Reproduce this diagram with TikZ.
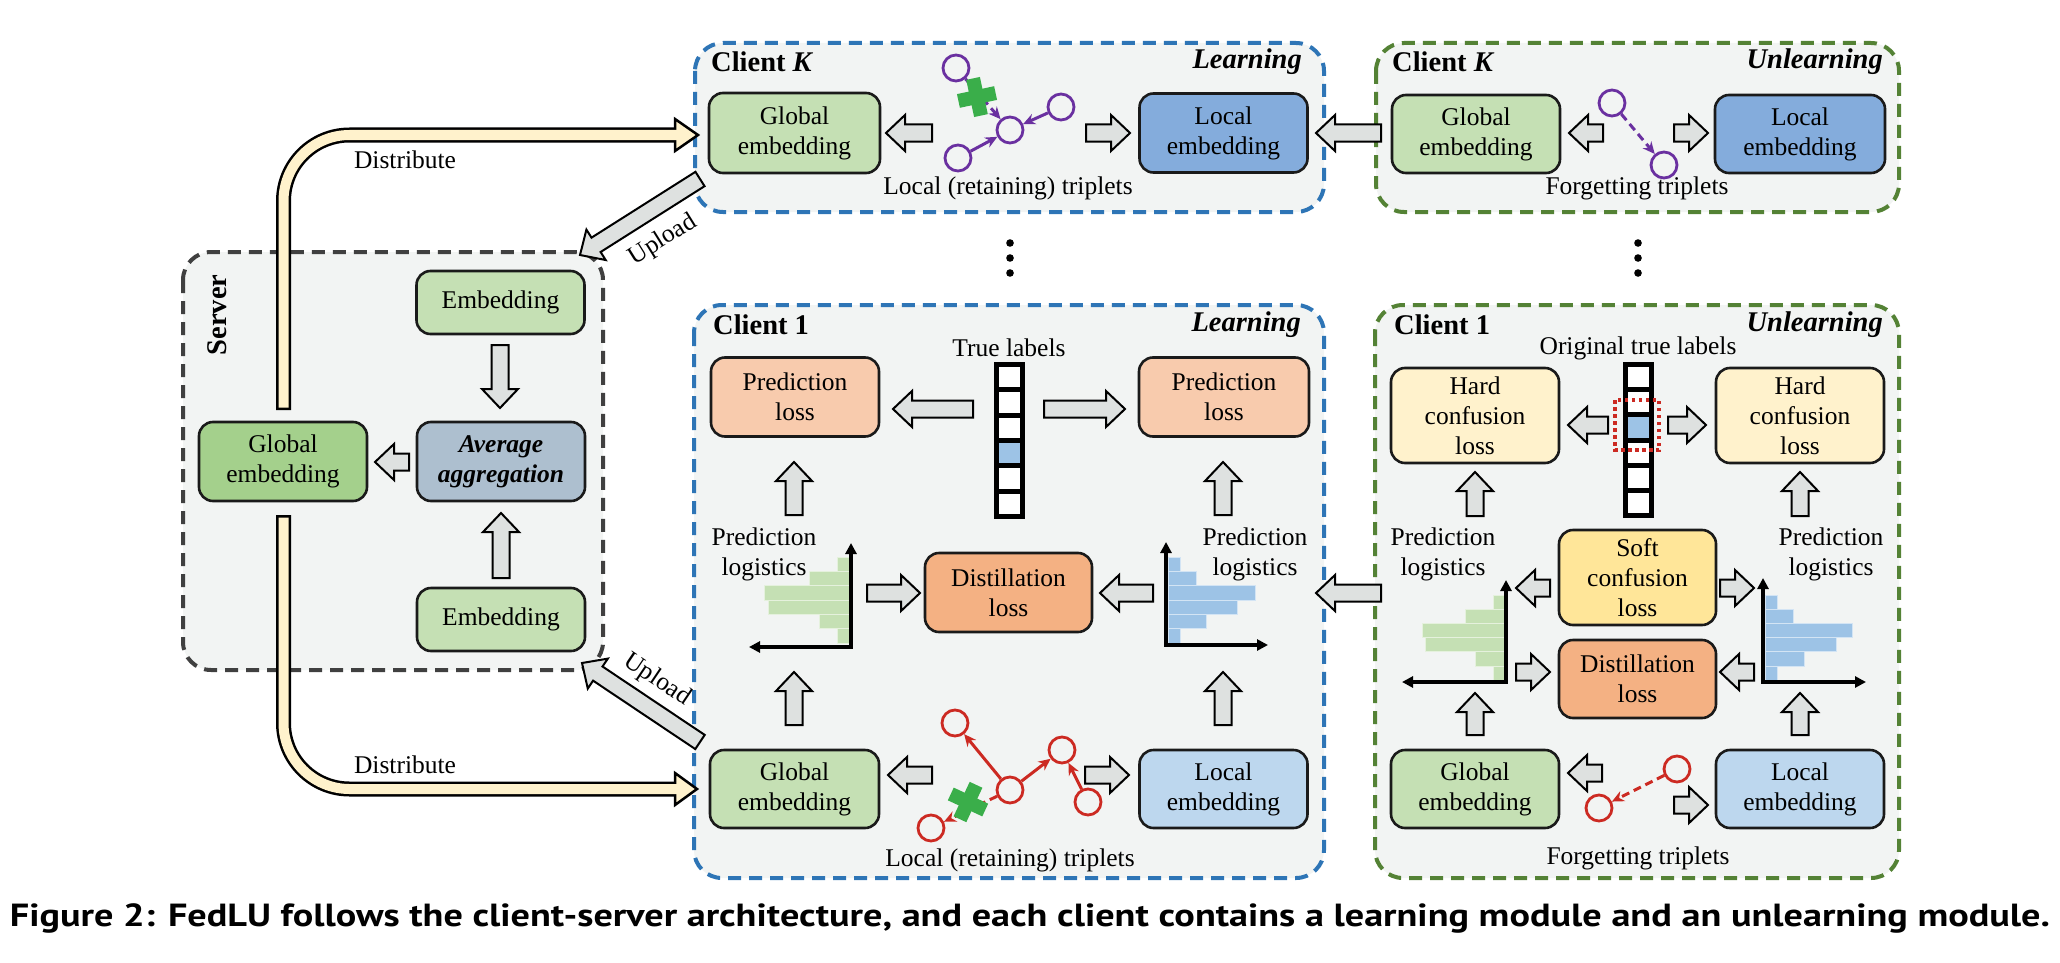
\documentclass[tikz,border=0pt]{standalone}
\usepackage{fontspec}
\setmainfont{Liberation Serif}
\newfontfamily\capfont{PT Sans}
\usetikzlibrary{arrows.meta,calc}
\definecolor{framebg}{HTML}{F2F4F3}
\definecolor{bluedash}{HTML}{2E75B6}
\definecolor{greendash}{HTML}{548235}
\definecolor{srvdash}{HTML}{404040}
\definecolor{greenbox}{HTML}{C5E0B4}
\definecolor{greendark}{HTML}{A4D08C}
\definecolor{bluemid}{HTML}{84ACDC}
\definecolor{lightblue}{HTML}{BDD7EE}
\definecolor{avgcol}{HTML}{ADBFCF}
\definecolor{predcol}{HTML}{F8CBAD}
\definecolor{distcol}{HTML}{F4B183}
\definecolor{hardcol}{HTML}{FFF2CC}
\definecolor{softcol}{HTML}{FFE699}
\definecolor{pipefill}{HTML}{FFF2CC}
\definecolor{arrowgray}{HTML}{DEE1E0}
\definecolor{purp}{HTML}{6A30A0}
\definecolor{redc}{HTML}{CC2A22}
\definecolor{crossgreen}{HTML}{3AAE4A}
\definecolor{histgreen}{HTML}{C5E0B4}
\definecolor{histblue}{HTML}{9DC3E6}
\definecolor{boxline}{HTML}{1A1A1A}
\tikzset{
  frm/.style={fill=framebg, line width=4pt, dash pattern=on 13pt off 8pt, rounded corners=28pt},
  bx/.style={draw=boxline, line width=2.6pt, rounded corners=14pt, align=center, inner sep=0pt,
    font=\fontsize{25.5}{30}\selectfont, minimum width=168pt, minimum height=79pt},
  ttl/.style={font=\fontsize{28.5}{34}\selectfont\bfseries, inner sep=0pt},
  ttli/.style={font=\fontsize{28.5}{34}\selectfont\bfseries\itshape, inner sep=0pt},
  lbl/.style={font=\fontsize{25.5}{30}\selectfont, align=center, inner sep=0pt},
  barrowsty/.style={draw=black, fill=arrowgray, line width=2pt, line join=miter},
  ent/.style={circle, draw=#1, line width=2.8pt, minimum size=26pt, inner sep=0pt},
  rel/.style={draw=#1, line width=3pt, -{Stealth[length=12pt,width=11pt]}},
  dsh/.style={dash pattern=on 8pt off 5pt},
  axisln/.style={line width=3.5pt, line join=miter, {Triangle[length=11pt,width=11pt]}-{Triangle[length=11pt,width=11pt]}},
  cell/.style={draw=black, line width=5pt},
  gbar/.style={fill=histgreen, draw=white!55!histgreen, line width=0.5pt},
  bbar/.style={fill=histblue, draw=white!55!histblue, line width=0.5pt},
}
% block arrow from tail (#1,#2) to tip (#3,#4)
\newcommand{\barr}[4]{%
  \pgfmathsetmacro\barA{atan2(-(#4-#2),#3-#1)}%
  \pgfmathsetmacro\barL{veclen(#3-#1,#4-#2)}%
  \begin{scope}[shift={(#1,#2)}, rotate=\barA]
    \draw[barrowsty] (0,8.5) -- ({\barL-19},8.5) -- ({\barL-19},18) -- (\barL,0) -- ({\barL-19},-18) -- ({\barL-19},-8.5) -- (0,-8.5) -- cycle;
  \end{scope}}
\newcommand{\gcross}[3]{%
  \begin{scope}[shift={(#1,#2)}, rotate=#3]
    \fill[crossgreen] (-19,-7) rectangle (19,7);
    \fill[crossgreen] (-7,-19) rectangle (7,19);
  \end{scope}}
\begin{document}
\begin{tikzpicture}[x=1pt,y=-1pt]
\useasboundingbox (0,0) rectangle (2060,963);

% ---------- frames ----------
\draw[frm, draw=srvdash] (183,252) rectangle (603,670);
\draw[frm, draw=bluedash] (695,43) rectangle (1324,212);
\draw[frm, draw=greendash] (1376,43) rectangle (1899,212);
\draw[frm, draw=bluedash] (694,305) rectangle (1324,878);
\draw[frm, draw=greendash] (1375,305) rectangle (1899,878);

% ---------- server ----------
\node[ttl, rotate=90] (srvt) at (217,315) {Server};
\node[bx, fill=greenbox, minimum height=63pt] (se1) at (500.5,302.5) {Embedding};
\node[bx, fill=avgcol, font=\fontsize{25.5}{30}\selectfont\bfseries\itshape] (sav) at (501,461.5) {Average\\aggregation};
\node[bx, fill=greenbox, minimum height=63pt] (se2) at (501,619.5) {Embedding};
\node[bx, fill=greendark] (sgl) at (283,461.5) {Global\\embedding};
\barr{500}{345}{500}{408}
\barr{501}{578}{501}{513}
\barr{409}{462}{375}{462}

% ---------- distribute pipes ----------
\draw[line width=15pt, black, rounded corners=66pt] (283.5,410) |- (677,135);
\filldraw[fill=pipefill, draw=black, line width=2.5pt, line join=miter] (675,119) -- (698,135) -- (675,151) -- cycle;
\draw[line width=10pt, pipefill, rounded corners=66pt] (283.5,407.5) |- (678,135);
\draw[line width=15pt, black, rounded corners=66pt] (283.5,515) |- (677,789);
\filldraw[fill=pipefill, draw=black, line width=2.5pt, line join=miter] (675,773) -- (697,789) -- (675,805) -- cycle;
\draw[line width=10pt, pipefill, rounded corners=66pt] (283.5,517.5) |- (678,789);
\node[lbl] (dist1) at (405,160) {Distribute};
\node[lbl] (dist2) at (405,765) {Distribute};

% ---------- upload ----------
\barr{700}{179}{580}{255}
\node[lbl, rotate=32] (up1) at (663,240) {Upload};
\barr{700}{742}{582}{663}
\node[lbl, rotate=-34] (up2) at (657,680) {Upload};

% ---------- client K learning ----------
\node[ttl, anchor=west] (ckt) at (711,62) {Client \textit{K}};
\node[ttli, anchor=east] (ckl) at (1302,62) {Learning};
\node[bx, fill=greenbox, minimum width=171pt, minimum height=80pt] (kg) at (794.5,133) {Global\\embedding};
\node[bx, fill=bluemid] (kl) at (1223.5,133) {Local\\embedding};
\barr{932}{133}{886}{133}
\barr{1086}{133}{1130}{133}
\node[ent=purp] (ka) at (956,68) {};
\node[ent=purp] (kb) at (1010,130) {};
\node[ent=purp] (kc) at (1061,107) {};
\node[ent=purp] (kd) at (958,158) {};
\draw[rel=purp, dsh] (ka) -- (kb);
\draw[rel=purp] (kd) -- (kb);
\draw[rel=purp] (kc) -- (kb);
\gcross{977}{97}{12}
\node[lbl] (ktrip) at (1008,188) {Local (retaining) triplets};

% ---------- client K unlearning ----------
\node[ttl, anchor=west] (cku) at (1392,62) {Client \textit{K}};
\node[ttli, anchor=east] (ckun) at (1883,62) {Unlearning};
\node[bx, fill=greenbox, minimum height=78pt] (ug) at (1476,134) {Global\\embedding};
\node[bx, fill=bluemid, minimum width=170pt, minimum height=78pt] (ul) at (1800,134) {Local\\embedding};
\barr{1603}{133}{1569}{133}
\barr{1674}{133}{1708}{133}
\node[ent=purp] (ua) at (1612,103) {};
\node[ent=purp] (ub) at (1664,165) {};
\draw[rel=purp, dsh] (ua) -- (ub);
\node[lbl] (utrip) at (1637,188) {Forgetting triplets};
\barr{1381}{133}{1316}{133}

% ---------- ellipsis ----------
\foreach \yy in {243,258,273} {
  \fill (1010,\yy) circle (3.8);
  \fill (1638,\yy) circle (3.8);
}

% ---------- client 1 learning ----------
\node[ttl, anchor=west] (c1t) at (713,325) {Client 1};
\node[ttli, anchor=east] (c1l) at (1301,325) {Learning};
\node[lbl] (tl) at (1009,348) {True labels};
\foreach \i in {0,...,5} {
  \ifnum\i=3 \def\cc{histblue}\else\def\cc{white}\fi
  \draw[cell, fill=\cc] (996.5,{364.5+\i*25.33}) rectangle (1022.5,{364.5+(\i+1)*25.33});
}
\node[bx, fill=predcol] (pl1) at (795,397) {Prediction\\loss};
\node[bx, fill=predcol, minimum width=170pt] (pl2) at (1224,397) {Prediction\\loss};
\barr{973}{409}{893}{409}
\barr{1044}{409}{1125}{409}
\barr{794}{515}{794}{462}
\barr{1223}{515}{1223}{462}
% histograms
\foreach \l [count=\i from 0] in {837,809,764,768,819,837}
  \filldraw[gbar] (\l,{557+\i*14.33}) rectangle (849,{557+(\i+1)*14.33});
\draw[axisln] (851,543) -- (851,647) -- (749,647);
\foreach \r [count=\i from 0] in {1180,1196,1255,1237,1206,1180}
  \filldraw[bbar] (1168,{557+\i*14.33}) rectangle (\r,{557+(\i+1)*14.33});
\draw[axisln] (1166,542) -- (1166,645) -- (1268,645);
\node[lbl] (plg1) at (764,554) {Prediction\\logistics};
\node[lbl] (plg2) at (1255,554) {Prediction\\logistics};
\barr{867}{593}{920}{593}
\node[bx, fill=distcol, minimum width=167pt] (dl1) at (1008.5,592.5) {Distillation\\loss};
\barr{1153}{593}{1100}{593}
\barr{794}{725}{794}{672}
\barr{1223}{725}{1223}{672}
\node[bx, fill=greenbox, minimum width=169pt, minimum height=78pt] (g1) at (794.5,789) {Global\\embedding};
\node[bx, fill=lightblue, minimum height=78pt] (l1) at (1223.5,789) {Local\\embedding};
\barr{932}{775}{888}{775}
\barr{1085}{775}{1129}{775}
\node[ent=redc] (ra) at (955,723) {};
\node[ent=redc] (rb) at (1010,790) {};
\node[ent=redc] (rc) at (1062,750) {};
\node[ent=redc] (rd) at (1088,802) {};
\node[ent=redc] (re) at (931,828) {};
\draw[rel=redc] (rb) -- (ra);
\draw[rel=redc] (rb) -- (rc);
\draw[rel=redc] (rd) -- (rc);
\draw[rel=redc, dsh] (rb) -- (re);
\gcross{968}{802}{-25}
\node[lbl] (ltrip) at (1010,860) {Local (retaining) triplets};
\barr{1381}{593}{1316}{593}

% ---------- client 1 unlearning ----------
\node[ttl, anchor=west] (u1t) at (1394,325) {Client 1};
\node[ttli, anchor=east] (u1u) at (1883,325) {Unlearning};
\node[lbl] (otl) at (1638,348) {Original true labels};
\foreach \i in {0,...,5} {
  \ifnum\i=2 \def\cc{histblue}\else\def\cc{white}\fi
  \draw[cell, fill=\cc] (1625,{364.5+\i*25.17}) rectangle (1651,{364.5+(\i+1)*25.17});
}
\draw[redc, line width=3.5pt, dash pattern=on 3.5pt off 3.5pt] (1615,400) rectangle (1659,450);
\node[bx, fill=hardcol, minimum height=95pt] (h1) at (1475,415.5) {Hard\\confusion\\loss};
\node[bx, fill=hardcol, minimum height=95pt] (h2) at (1800,415.5) {Hard\\confusion\\loss};
\barr{1608}{425}{1568}{425}
\barr{1668}{425}{1706}{425}
\barr{1475}{516}{1475}{472}
\barr{1800}{516}{1800}{472}
\node[bx, fill=softcol, minimum width=157pt, minimum height=95pt] (sc) at (1637.5,577.5) {Soft\\confusion\\loss};
\barr{1550}{588}{1516}{588}
\barr{1720}{588}{1754}{588}
\foreach \l [count=\i from 0] in {1493,1465,1422,1425,1475,1493}
  \filldraw[gbar] (\l,{595+\i*14.17}) rectangle (1504,{595+(\i+1)*14.17});
\draw[axisln] (1506,580) -- (1506,682) -- (1402,682);
\foreach \r [count=\i from 0] in {1777,1793,1852,1836,1804,1777}
  \filldraw[bbar] (1765,{595+\i*14.17}) rectangle (\r,{595+(\i+1)*14.17});
\draw[axisln] (1763,578) -- (1763,682) -- (1866,682);
\node[lbl] (plg3) at (1443,554) {Prediction\\logistics};
\node[lbl] (plg4) at (1831,554) {Prediction\\logistics};
\node[bx, fill=distcol, minimum width=157pt, minimum height=78pt] (dl2) at (1637.5,679) {Distillation\\loss};
\barr{1516}{672}{1550}{672}
\barr{1754}{672}{1720}{672}
\barr{1475}{735}{1475}{693}
\barr{1800}{735}{1800}{693}
\node[bx, fill=greenbox, minimum height=78pt] (g2) at (1475,789) {Global\\embedding};
\node[bx, fill=lightblue, minimum height=78pt] (l2) at (1800,789) {Local\\embedding};
\barr{1602}{773}{1568}{773}
\barr{1674}{805}{1708}{805}
\node[ent=redc] (fa) at (1677,769) {};
\node[ent=redc] (fb) at (1599,808) {};
\draw[rel=redc, dsh] (fa) -- (fb);
\node[lbl] (ftrip) at (1638,858) {Forgetting triplets};

% ---------- caption ----------
\node[inner sep=0pt, font=\capfont\bfseries\fontsize{32}{38}\selectfont] (cap) at (1030,918)
  {\resizebox{2040pt}{\height}{Figure 2: FedLU follows the client-server architecture, and each client contains a learning module and an unlearning module.}};
\end{tikzpicture}
\end{document}
